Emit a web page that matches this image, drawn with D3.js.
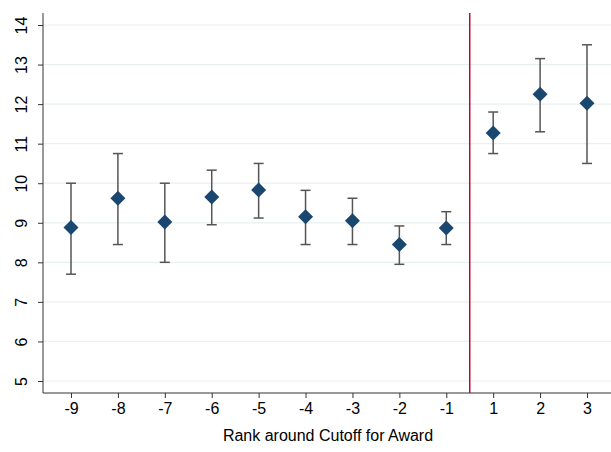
<!DOCTYPE html>
<html><head><meta charset="utf-8">
<script src="https://cdn.jsdelivr.net/npm/d3@7"></script>
<style>body{margin:0;background:#fff}</style>
</head><body><div id="chart"></div>
<script>
const ranks = ["-9","-8","-7","-6","-5","-4","-3","-2","-1","1","2","3"];
const means = [8.88,9.62,9.02,9.65,9.83,9.15,9.05,8.45,8.87,11.27,12.25,12.02];
const lows  = [7.7,8.45,8.0,8.95,9.12,8.45,8.45,7.95,8.45,10.75,11.3,10.5];
const highs = [10.0,10.75,10.0,10.33,10.5,9.82,9.62,8.92,9.28,11.8,13.15,13.5];
const yTicks = [5,6,7,8,9,10,11,12,13,14];

const W = 611, H = 452;
const svg = d3.select("#chart").append("svg").attr("width", W).attr("height", H)
  .style("font-family", "Liberation Sans, Arial, sans-serif");

var x = d3.scalePoint().domain(ranks).range([71, 587]);
var y = d3.scaleLinear().domain([5, 14]).range([381, 25]);

// gridlines
svg.append("g").selectAll("line").data(yTicks).join("line")
  .attr("x1", 43).attr("x2", W).attr("y1", d => y(d)).attr("y2", d => y(d))
  .attr("stroke", "#e8f0f2").attr("stroke-width", 1.2);

// axes
svg.append("g").attr("transform", "translate(43,0)")
  .call(d3.axisLeft(y).tickValues(yTicks).tickSize(5).tickPadding(4))
  .call(g => g.select(".domain").attr("d", "M0,13V393"))
  .call(g => g.selectAll("line,path").attr("stroke", "#333"))
  .call(g => g.selectAll("text").attr("font-size", 16).attr("fill", "#000")
    .attr("x", 0).attr("y", 0).attr("dy", "0.35em").attr("text-anchor", "middle")
    .attr("transform", "translate(-22,0) rotate(-90)"));

svg.append("g").attr("transform", "translate(0,393)")
  .call(d3.axisBottom(x).tickSize(5).tickPadding(5))
  .call(g => g.select(".domain").attr("d", "M43,0H" + W))
  .call(g => g.selectAll("line,path").attr("stroke", "#333"))
  .call(g => g.selectAll("text").attr("font-size", 16).attr("fill", "#000"));

svg.append("text").attr("x", 328).attr("y", 441).attr("text-anchor", "middle")
  .attr("font-size", 16).text("Rank around Cutoff for Award");

// cutoff line
svg.append("line").attr("x1", (x("-1") + x("1")) / 2).attr("x2", (x("-1") + x("1")) / 2)
  .attr("y1", 13).attr("y2", 393).attr("stroke", "#c10534").attr("stroke-width", 1.5);

// error bars
const g = svg.append("g");
ranks.forEach((r, i) => {
  g.append("line").attr("x1", x(r)).attr("x2", x(r)).attr("y1", y(lows[i])).attr("y2", y(highs[i]))
    .attr("stroke", "#555").attr("stroke-width", 1.5);
  [lows[i], highs[i]].forEach(v => g.append("line").attr("x1", x(r) - 5).attr("x2", x(r) + 5)
    .attr("y1", y(v)).attr("y2", y(v)).attr("stroke", "#555").attr("stroke-width", 1.5));
});

g.selectAll("path.pt").data(ranks).join("path").attr("class", "pt")
  .attr("d", "M0,-7.5L7.5,0L0,7.5L-7.5,0Z")
  .attr("transform", (d, i) => `translate(${x(d)},${y(means[i])})`)
  .attr("fill", "#1a476f");
</script></body></html>
